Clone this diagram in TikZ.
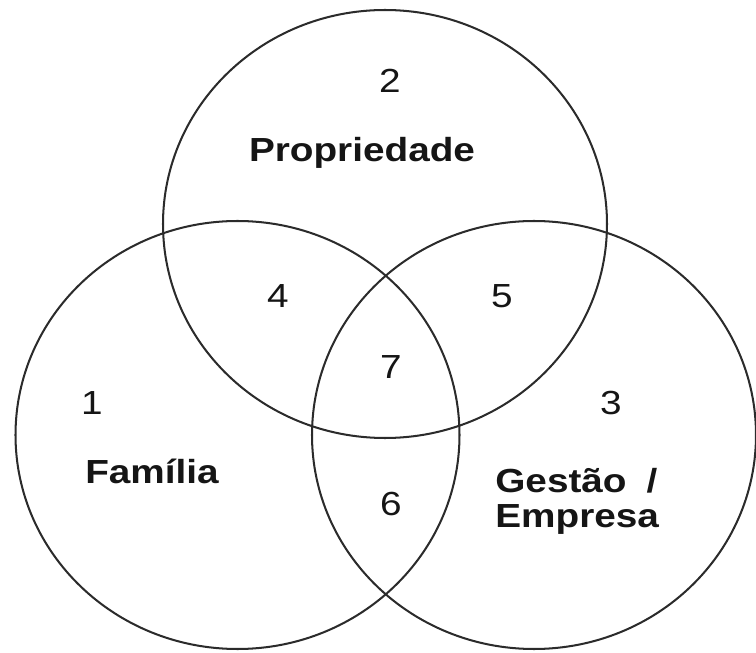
\documentclass[tikz,border=0pt]{standalone}
\usepackage{fontspec}
\setmainfont{Liberation Sans}[FakeStretch=1.16]
\usepackage{tikz}
\definecolor{linha}{HTML}{2B2B2B}
\definecolor{texto}{HTML}{151515}
\tikzset{
  conjunto/.style={draw=linha,line width=1.15pt},
  numero/.style={anchor=base,text=texto,inner sep=0pt,font=\fontsize{19}{20}\selectfont},
  rotulo/.style={anchor=base,text=texto,inner sep=0pt,font=\fontsize{19}{20}\selectfont\bfseries}
}
\begin{document}
\begin{tikzpicture}[line cap=round,line join=round,x=1.0cm,y=1.0cm]
\useasboundingbox (0,0) rectangle (15.12,13.04);
% os tres conjuntos
\draw[conjunto] (7.70,8.56) ellipse [x radius=4.44cm, y radius=4.28cm];
\draw[conjunto] (4.75,4.34) ellipse [x radius=4.44cm, y radius=4.28cm];
\draw[conjunto] (10.68,4.34) ellipse [x radius=4.44cm, y radius=4.28cm];
% numeros das regioes
\node[numero] (n1) at (1.84,4.74) {1};
\node[numero] (n2) at (7.80,11.18) {2};
\node[numero] (n3) at (12.22,4.74) {3};
\node[numero] (n4) at (5.56,6.88) {4};
\node[numero] (n5) at (10.04,6.88) {5};
\node[numero] (n6) at (7.82,2.74) {6};
\node[numero] (n7) at (7.82,5.48) {7};
% nomes
\node[rotulo] (propriedade) at (7.24,9.80) {Propriedade};
\node[rotulo] (familia) at (3.04,3.38) {Família};
\node[rotulo,anchor=base west,align=left,font=\fontsize{19}{19.6}\selectfont\bfseries] (gestao) at (9.90,2.50) {Gestão\hspace{0.6em}/\\Empresa};
\end{tikzpicture}
\end{document}
